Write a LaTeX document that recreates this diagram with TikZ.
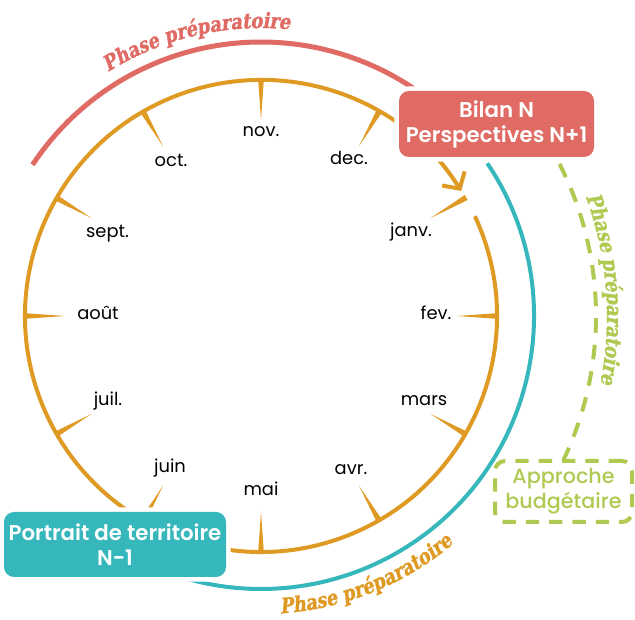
\documentclass[tikz,border=0pt]{standalone}
\usepackage{fontspec}
\setmainfont{Poppins}
\newfontfamily\semifont{Poppins}[UprightFont=* SemiBold]
\newfontfamily\medfont{Poppins}[UprightFont=* Medium]
\newfontfamily\labfont{DejaVu Serif}[UprightFont=* Bold, FakeSlant=0.18, FakeStretch=0.84, FakeBold=1.5]
\usetikzlibrary{decorations.text,arrows.meta,calc}
\definecolor{cor}{HTML}{DE9A22}
\definecolor{cred}{HTML}{E06B64}
\definecolor{cteal}{HTML}{35B7BC}
\definecolor{cgreen}{HTML}{AFC951}
\tikzset{
  month/.style={anchor=base, font=\fontsize{13.4}{16}\selectfont, text=black},
  tick/.style={fill=cor},
  keybox/.style={rounded corners=7.5pt, fill=#1, text=white, align=center, inner sep=0pt,
    preaction={draw=white, line width=7pt}, font=\semifont\fontsize{16}{18.75}\selectfont},
  budgetbox/.style={rounded corners=7.5pt, draw=cgreen, line width=3pt, dash pattern=on 10pt off 7.5pt,
    text=cgreen, align=center, inner sep=0pt, font=\medfont\fontsize{15.5}{18.75}\selectfont},
  phaselabel/.style={decorate, decoration={text along path, text align=center,
    text={|\labfont\fontsize{15.8}{18}\selectfont\color{#1}|Phase préparatoire}}}
}
\begin{document}
\begin{tikzpicture}[x=0.75pt,y=0.75pt]
\useasboundingbox (0,0) rectangle (635,620);
\coordinate (C) at (261,304);
% ticks
\foreach \a in {90,60,30,0,-30,-60,-90,-120,-150,-180,-210,-240}{
  \fill[tick, shift={(C)}] (\a+0.7:237) -- (\a:196) -- (\a-0.7:237) -- cycle;
}
% month circle
\draw[cor, line width=3pt, -{Straight Barb[length=9pt,width=20pt]}]
  ($(C)+(25:236)$) arc[start angle=25, end angle=-328, radius=236];
% outer arcs
\draw[cred, line width=3.75pt] ($(C)+(146.5:274)$) arc[start angle=146.5, end angle=52, radius=274];
\draw[cteal, line width=3pt] ($(C)+(34:273)$) arc[start angle=34, end angle=-110, radius=273];
\draw[cgreen, line width=3pt, dash pattern=on 11pt off 9pt] ($(C)+(27:335)$) arc[start angle=27, end angle=-25.5, radius=335];
% arc labels
\path[phaselabel=cred] ($(C)+(140.2:288)$) arc[start angle=140.2, end angle=66.2, radius=288];
\path[phaselabel=cor] ($(C)+(-104:298)$) arc[start angle=-104, end angle=-32, radius=298];
\path[phaselabel=cgreen] ($(C)+(40:346)$) arc[start angle=40, end angle=-31, radius=346];
% months
\node[month] (nov) at (261,483) {nov.};
\node[month] (oct) at (171,453) {oct.};
\node[month] (sept) at (107.5,382) {sept.};
\node[month] (aout) at (98,300) {août};
\node[month] (juil) at (108,214) {juil.};
\node[month] (juin) at (170,147) {juin};
\node[month] (mai) at (261,124) {mai};
\node[month] (avr) at (351,145) {avr.};
\node[month] (mars) at (424,214) {mars};
\node[month] (fev) at (436,300) {fev.};
\node[month] (janv) at (411,383) {janv.};
\node[month] (dec) at (349,455) {dec.};
% boxes
\node[keybox=cred, minimum width=146.25pt, minimum height=49.5pt] (bilan) at (496.5,496) {Bilan N\\Perspectives N+1};
\node[keybox=cteal, minimum width=166.5pt, minimum height=48.75pt] (portrait) at (115,75.5) {Portrait de territoire\\N-1};
\node[budgetbox, minimum width=102.75pt, minimum height=45.75pt] (budget) at (563.5,128.5) {Approche\\budgétaire};
\end{tikzpicture}
\end{document}
